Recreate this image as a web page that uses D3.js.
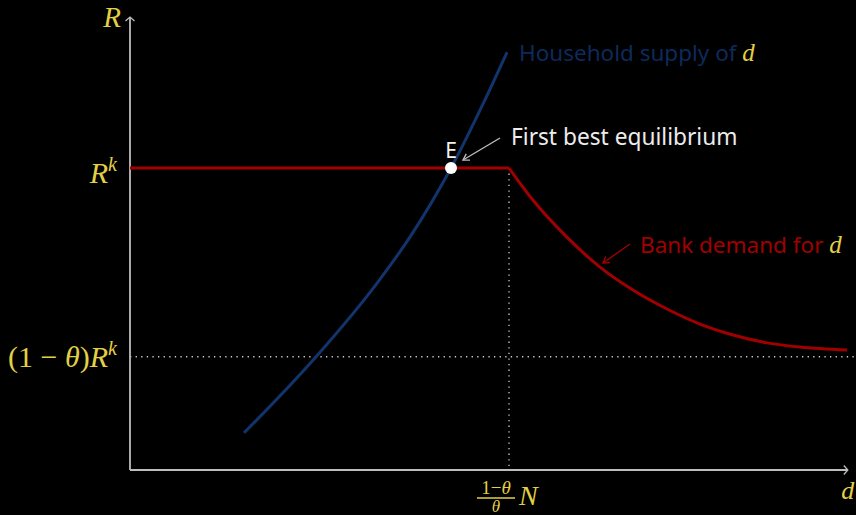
<!DOCTYPE html>
<html>
<head>
<meta charset="utf-8">
<script src="https://cdn.jsdelivr.net/npm/d3@7"></script>
<style>
  html, body { margin: 0; padding: 0; background: #000; }
  svg { display: block; }
  .math { font-family: "Liberation Serif", "DejaVu Serif", serif; font-style: italic; fill: #e2d046; }
  .upright { font-style: normal; }
  .note { font-family: "Noto Sans", "Open Sans", sans-serif; }
</style>
</head>
<body>
<svg id="chart"></svg>
<script>
// household supply of deposits (d, R/R^k)
const supplyD = [0.301, 0.488, 0.652, 0.739, 0.847, 0.934, 0.995];
const supplyR = [0.123, 0.371, 0.619, 0.772, 1.0, 1.219, 1.384];

// bank demand: flat at R^k until the kink, then falling
const flatD = [0, 1];
const flatR = [1, 1];
const demandD = [1.0, 1.063, 1.152, 1.240, 1.327, 1.417, 1.504, 1.591, 1.681, 1.768, 1.892];
const demandR = [1.0, 0.894, 0.772, 0.672, 0.596, 0.533, 0.483, 0.447, 0.421, 0.407, 0.397];

const theta = 0.625;
const kinkD = 1;
const eqD = 0.847, eqR = 1;

const width = 856, height = 515;

const svg = d3.select('#chart')
    .attr('width', width)
    .attr('height', height);

const x = d3.scaleLinear().domain([0, 1]).range([130, 509]);
const y = d3.scaleLinear().domain([0, 1]).range([470, 168]);

const xEnd = 1.894, yEnd = 1.5;

const grey = '#bdbdbd';
const red = '#a00000';
const blue = '#12346c';

// dotted guides
svg.append('line')
    .attr('x1', x(0)).attr('x2', width)
    .attr('y1', y(1 - theta)).attr('y2', y(1 - theta))
    .attr('stroke', '#cfcfcf').attr('stroke-width', 1.3)
    .attr('stroke-dasharray', '1.3,4.3');
svg.append('line')
    .attr('x1', x(kinkD)).attr('x2', x(kinkD))
    .attr('y1', y(1)).attr('y2', y(0))
    .attr('stroke', '#cfcfcf').attr('stroke-width', 1.3)
    .attr('stroke-dasharray', '1.3,4.3');

// axes
const axes = svg.append('g').attr('stroke', grey).attr('stroke-width', 1.8).attr('fill', 'none');
axes.append('line').attr('x1', x(0)).attr('x2', x(xEnd)).attr('y1', y(0)).attr('y2', y(0));
axes.append('line').attr('x1', x(0)).attr('x2', x(0)).attr('y1', y(0)).attr('y2', y(yEnd));
axes.append('path')
    .attr('d', `M${x(xEnd) - 4},${y(0) - 4.5} L${x(xEnd)},${y(0)} L${x(xEnd) - 4},${y(0) + 4.5}`)
    .attr('stroke-width', 1.3);
axes.append('path')
    .attr('d', `M${x(0) - 4.5},${y(yEnd) + 4} L${x(0)},${y(yEnd)} L${x(0) + 4.5},${y(yEnd) + 4}`)
    .attr('stroke-width', 1.3);

// curves
const line = d3.line()
    .x(d => x(d[0]))
    .y(d => y(d[1]));

svg.append('path')
    .datum(flatD.map((d, i) => [d, flatR[i]]))
    .attr('d', line)
    .attr('fill', 'none').attr('stroke', red).attr('stroke-width', 3);

svg.append('path')
    .datum(demandD.map((d, i) => [d, demandR[i]]))
    .attr('d', line.curve(d3.curveMonotoneX))
    .attr('fill', 'none').attr('stroke', red).attr('stroke-width', 3);

svg.append('path')
    .datum(supplyD.map((d, i) => [d, supplyR[i]]))
    .attr('d', line.curve(d3.curveMonotoneX))
    .attr('fill', 'none').attr('stroke', blue).attr('stroke-width', 3);

// equilibrium point
svg.append('circle')
    .attr('cx', x(eqD)).attr('cy', y(eqR)).attr('r', 6)
    .attr('fill', '#fff');

svg.append('text')
    .attr('class', 'note')
    .attr('x', x(eqD)).attr('y', y(eqR) - 10)
    .attr('text-anchor', 'middle')
    .attr('font-size', 21)
    .attr('fill', '#f2f2f2')
    .text('E');

// annotation arrows
const arrow = (x1, y1, x2, y2, color) => {
    const g = svg.append('g').attr('stroke', color).attr('stroke-width', 1.4).attr('fill', 'none');
    g.append('line').attr('x1', x1).attr('y1', y1).attr('x2', x2).attr('y2', y2);
    const a = Math.atan2(y2 - y1, x2 - x1);
    const L = 7, w = 0.55;
    g.append('path').attr('d',
        `M${x2 - L * Math.cos(a - w)},${y2 - L * Math.sin(a - w)} L${x2},${y2} L${x2 - L * Math.cos(a + w)},${y2 - L * Math.sin(a + w)}`);
};
arrow(x(eqD) + 49, y(eqR) - 30, x(eqD) + 12, y(eqR) - 8, '#bbbbbb');
arrow(630, 244, 603, 263, red);

svg.append('text')
    .attr('class', 'note')
    .attr('x', 511).attr('y', 145)
    .attr('font-size', 22.7)
    .attr('fill', '#ececec')
    .text('First best equilibrium');

const hh = svg.append('text')
    .attr('class', 'note')
    .attr('x', 519).attr('y', 61)
    .attr('font-size', 22.5)
    .attr('fill', '#0d2a5c');
hh.append('tspan').text('Household supply of ');
hh.append('tspan').attr('class', 'math').attr('font-size', 25).text('d');

const bk = svg.append('text')
    .attr('class', 'note')
    .attr('x', 640).attr('y', 253)
    .attr('font-size', 22.5)
    .attr('fill', red);
bk.append('tspan').text('Bank demand for ');
bk.append('tspan').attr('class', 'math').attr('font-size', 25).text('d');

// axis labels
svg.append('text').attr('class', 'math')
    .attr('x', x(0) - 9).attr('y', 27)
    .attr('text-anchor', 'end')
    .attr('font-size', 29)
    .text('R');

svg.append('text').attr('class', 'math')
    .attr('x', x(xEnd)).attr('y', 499)
    .attr('text-anchor', 'middle')
    .attr('font-size', 26)
    .text('d');

const rk = svg.append('text').attr('class', 'math')
    .attr('x', x(0) - 13).attr('y', y(1) + 15)
    .attr('text-anchor', 'end')
    .attr('font-size', 30);
rk.append('tspan').text('R');
rk.append('tspan').attr('font-size', 20).attr('dy', -12).text('k');

const rl = svg.append('text').attr('class', 'math')
    .attr('x', x(0) - 13).attr('y', y(1 - theta) + 10)
    .attr('text-anchor', 'end')
    .attr('font-size', 30);
rl.append('tspan').attr('class', 'upright').text('(1 \u2212 ');
rl.append('tspan').text('\u03b8');
rl.append('tspan').attr('class', 'upright').text(')');
rl.append('tspan').text('R');
rl.append('tspan').attr('font-size', 20).attr('dy', -12).text('k');

// fraction label under the kink
const fx = x(kinkD) - 13;
const fg = svg.append('g');
const num = fg.append('text').attr('class', 'math')
    .attr('x', fx).attr('y', 494)
    .attr('text-anchor', 'middle')
    .attr('font-size', 19);
num.append('tspan').attr('class', 'upright').text('1\u2212');
num.append('tspan').text('\u03b8');
fg.append('line')
    .attr('x1', fx - 19).attr('x2', fx + 19)
    .attr('y1', 498).attr('y2', 498)
    .attr('stroke', '#e2d046').attr('stroke-width', 1.4);
fg.append('text').attr('class', 'math')
    .attr('x', fx).attr('y', 512)
    .attr('text-anchor', 'middle')
    .attr('font-size', 17)
    .text('\u03b8');
fg.append('text').attr('class', 'math')
    .attr('x', fx + 23).attr('y', 505)
    .attr('font-size', 28)
    .text('N');
</script>
</body>
</html>
